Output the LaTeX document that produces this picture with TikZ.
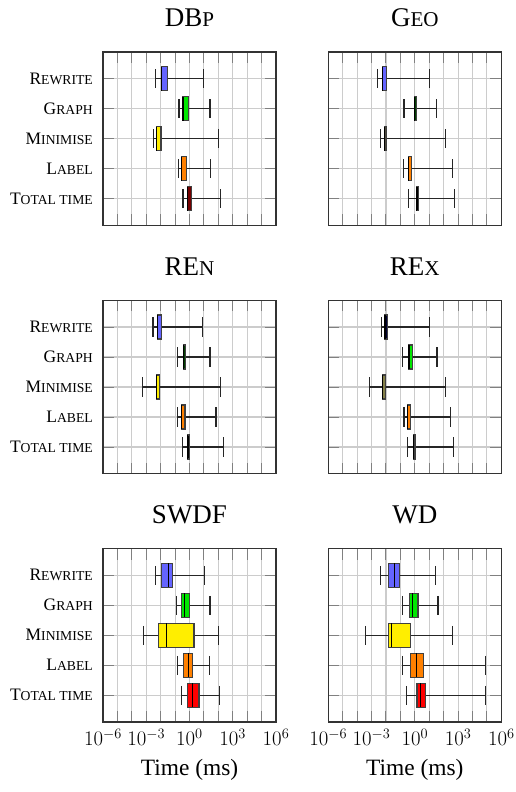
\documentclass[tikz,border=0pt]{standalone}
\usepackage[no-math]{fontspec}
\setmainfont{Liberation Serif}
\usepackage{graphicx}
\usepackage{tikz}

\definecolor{rwcol}{RGB}{100,100,255}
\definecolor{grcol}{RGB}{0,230,0}
\definecolor{micol}{RGB}{255,238,0}
\definecolor{lbcol}{RGB}{255,128,0}
\definecolor{ttcol}{RGB}{255,0,0}

\newcommand\fakesc[2]{#1\scalebox{0.78}{#2}}

% frame, grid and ticks of one panel (local units: decades, rows)
\newcommand\panelframe{%
  \foreach \e in {-5,...,5} \draw[gridline] (\e,0.11) -- (\e,5.89);
  \foreach \k in {1,...,5} \draw[gridline] (-6,\k) -- (6,\k);
  \foreach \e in {-5,...,5} \draw[tickline] (\e,0.11) -- ++(0pt,-11pt) (\e,5.89) -- ++(0pt,11pt);
  \foreach \k in {1,...,5} \draw[tickline] (-6,\k) -- ++(11pt,0pt) (6,\k) -- ++(-11pt,0pt);
  \draw[frame] (-6,0.11) rectangle (6,5.89);
}
\newcommand\catlabels[1]{%
  \node[catlab] (#1-rw) at (-6,1) {\fakesc{R}{EWRITE}};
  \node[catlab] (#1-gr) at (-6,2) {\fakesc{G}{RAPH}};
  \node[catlab] (#1-mi) at (-6,3) {\fakesc{M}{INIMISE}};
  \node[catlab] (#1-lb) at (-6,4) {\fakesc{L}{ABEL}};
  \node[catlab] (#1-tt) at (-6,5) {\fakesc{T}{OTAL TIME}};
}
\newcommand\ticklabels[1]{%
  \foreach \e in {-6,-3,0,3,6} \node[ticklab] (#1t\e) at (\e,5.89) {$10^{\e}$};
  \node[axlab] (#1x) at (0,5.89) {Time (ms)};
}
% row, low whisker, q1, median, q3, high whisker, fill
\newcommand\timebox[7]{%
  \draw[whisk] (#2,#1) -- (#3,#1) (#5,#1) -- (#6,#1);
  \draw[whisk] (#2,#1-0.317) -- (#2,#1+0.317) (#6,#1-0.317) -- (#6,#1+0.317);
  \draw[boxline, fill=#7] (#3,#1-0.4) rectangle (#5,#1+0.4);
  \draw[medline] (#4,#1-0.4) -- (#4,#1+0.4);
}

\begin{document}
\begin{tikzpicture}[x=1pt,y=1pt]
\tikzstyle{gridline}=[black!20, line width=1.1pt]
\tikzstyle{tickline}=[black!50, line width=1pt]
\tikzstyle{frame}=[black!80, line width=1.3pt]
\tikzstyle{whisk}=[black!85, line width=1.1pt]
\tikzstyle{boxline}=[black!75, line width=1.1pt]
\tikzstyle{medline}=[black, line width=1.1pt]
\tikzstyle{ptitle}=[anchor=base, yshift=25pt, inner sep=0pt, font=\fontsize{27}{30}\selectfont]
\tikzstyle{catlab}=[anchor=base east, xshift=-10pt, yshift=-5.4pt, inner sep=0pt, font=\fontsize{17.5}{20}\selectfont]
\tikzstyle{ticklab}=[anchor=base, yshift=-23.7pt, inner sep=0pt, font=\fontsize{21}{24}\selectfont]
\tikzstyle{axlab}=[anchor=base, yshift=-53pt, inner sep=0pt, font=\fontsize{23.4}{28}\selectfont]
\useasboundingbox (0,0) rectangle (516,-792);

% DBp
\begin{scope}[shift={(189.5pt,-48.7pt)}, x=14.42pt, y=-30pt]
\panelframe
\node[ptitle] (dbp) at (0,0.11) {DB\scalebox{0.78}{P}};
\catlabels{dbp}
\timebox{1}{-2.37}{-1.93}{-1.93}{-1.54}{0.98}{rwcol}
\timebox{2}{-0.73}{-0.45}{-0.45}{-0.08}{1.42}{grcol}
\timebox{3}{-2.49}{-2.28}{-2.28}{-1.98}{2.00}{micol}
\timebox{4}{-0.75}{-0.54}{-0.54}{-0.22}{1.47}{lbcol}
\timebox{5}{-0.45}{-0.15}{-0.15}{0.15}{2.12}{red!45!black}
\end{scope}

% Geo
\begin{scope}[shift={(414.8pt,-48.7pt)}, x=14.42pt, y=-30pt]
\panelframe
\node[ptitle] (geo) at (0,0.11) {G\scalebox{0.78}{EO}};
\timebox{1}{-2.58}{-2.21}{-2.21}{-1.95}{1.03}{rwcol}
\timebox{2}{-0.75}{-0.03}{-0.03}{0.13}{1.49}{green!25!black}
\timebox{3}{-2.37}{-2.12}{-2.12}{-1.98}{2.12}{yellow!20!black}
\timebox{4}{-0.77}{-0.45}{-0.45}{-0.26}{2.63}{lbcol}
\timebox{5}{-0.45}{0.13}{0.13}{0.27}{2.74}{black}
\end{scope}

% REn
\begin{scope}[shift={(189.5pt,-297pt)}, x=14.42pt, y=-30pt]
\panelframe
\node[ptitle] (ren) at (0,0.11) {RE\scalebox{0.78}{N}};
\catlabels{ren}
\timebox{1}{-2.53}{-2.21}{-2.21}{-1.93}{0.91}{rwcol}
\timebox{2}{-0.84}{-0.43}{-0.43}{-0.27}{1.42}{green!25!black}
\timebox{3}{-3.25}{-2.30}{-2.30}{-2.07}{2.12}{micol}
\timebox{4}{-0.84}{-0.57}{-0.57}{-0.31}{1.84}{lbcol}
\timebox{5}{-0.50}{-0.17}{-0.17}{0.01}{2.35}{black}
\end{scope}

% REx
\begin{scope}[shift={(414.8pt,-297pt)}, x=14.42pt, y=-30pt]
\panelframe
\node[ptitle] (rex) at (0,0.11) {RE\scalebox{0.78}{X}};
\timebox{1}{-2.34}{-2.07}{-2.07}{-1.88}{1.03}{blue!20!black}
\timebox{2}{-0.86}{-0.40}{-0.40}{-0.19}{1.54}{grcol}
\timebox{3}{-3.15}{-2.21}{-2.21}{-2.02}{2.12}{yellow!45!black}
\timebox{4}{-0.75}{-0.52}{-0.52}{-0.29}{2.49}{lbcol}
\timebox{5}{-0.49}{-0.10}{-0.10}{0.01}{2.67}{black}
\end{scope}

% SWDF
\begin{scope}[shift={(189.5pt,-545.3pt)}, x=14.42pt, y=-30pt]
\panelframe
\node[ptitle] (swdf) at (0,0.11) {SWDF};
\catlabels{swdf}
\ticklabels{swdf}
\timebox{1}{-2.35}{-1.95}{-1.47}{-1.17}{1.01}{rwcol}
\timebox{2}{-0.91}{-0.54}{-0.36}{-0.03}{1.42}{grcol}
\timebox{3}{-3.20}{-2.14}{-1.61}{0.31}{2.00}{micol}
\timebox{4}{-0.84}{-0.43}{-0.08}{0.20}{1.38}{lbcol}
\timebox{5}{-0.57}{-0.17}{0.20}{0.66}{2.07}{ttcol}
\end{scope}

% WD
\begin{scope}[shift={(414.8pt,-545.3pt)}, x=14.42pt, y=-30pt]
\panelframe
\node[ptitle] (wd) at (0,0.11) {WD};
\ticklabels{wd}
\timebox{1}{-2.37}{-1.81}{-1.42}{-1.05}{1.42}{rwcol}
\timebox{2}{-0.84}{-0.38}{-0.17}{0.22}{1.61}{grcol}
\timebox{3}{-3.43}{-1.81}{-1.63}{-0.29}{2.63}{micol}
\timebox{4}{-0.84}{-0.31}{0.11}{0.59}{4.92}{lbcol}
\timebox{5}{-0.56}{0.15}{0.38}{0.75}{4.92}{ttcol}
\end{scope}
\end{tikzpicture}
\end{document}
